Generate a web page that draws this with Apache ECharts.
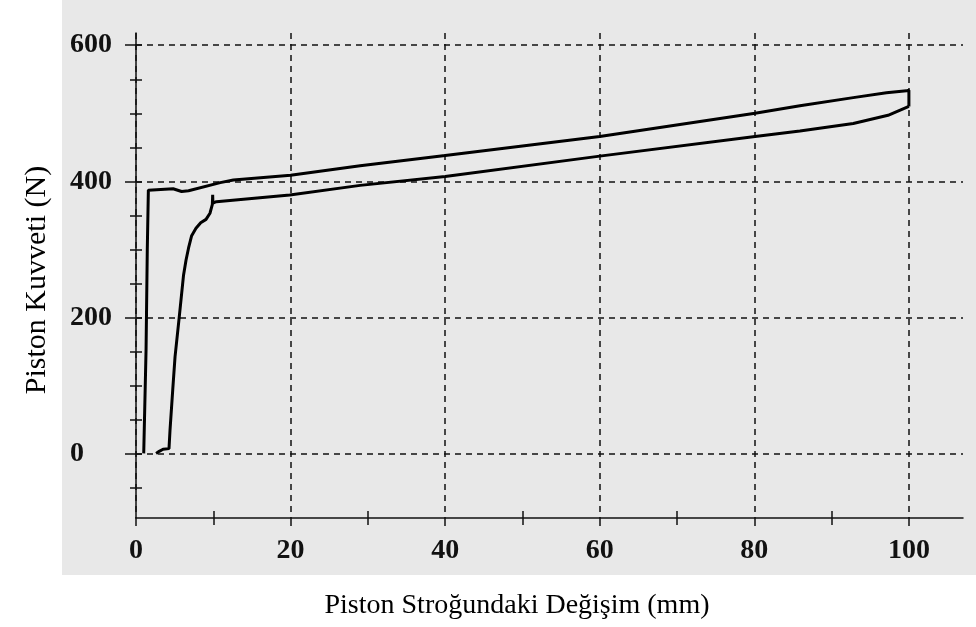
<!DOCTYPE html>
<html><head><meta charset="utf-8">
<script src="https://cdn.jsdelivr.net/npm/echarts@6/dist/echarts.min.js"></script>
<style>html,body{margin:0;padding:0;background:#fff}#c{width:976px;height:627px}</style>
</head><body><div id="c"></div>
<script>
// Loading branch (outer curve)
const loadX = [1.0, 1.3, 1.46, 1.6, 4.8, 5.9, 6.8, 10.9, 12.6, 20, 29, 40, 60, 80.1, 85.9, 92.8, 97.1, 99.7, 100, 100];
const loadY = [0, 152, 299, 387, 389, 385, 386, 398, 402, 409, 423, 438, 466, 500, 511, 523, 530, 533, 534, 510];
// Unloading branch (inner curve)
const unloadX = [100, 97.3, 92.8, 85.9, 80.1, 60, 40, 29, 19.9, 10.4, 9.95, 9.92, 9.88, 9.57, 9.06, 8.37, 7.76, 7.2, 6.8, 6.47, 6.15, 5.6, 5.05, 4.75, 4.4, 4.27, 3.5, 3.0, 2.6];
const unloadY = [510, 497, 485, 474, 466, 437, 407, 394, 380, 370, 368, 380, 366, 353, 344, 339, 331, 320, 302, 284, 262, 201, 142, 93, 34, 7, 6, 3, 0];

const xMajorTicks = [0, 20, 40, 60, 80, 100];
const xMinorTicks = [10, 30, 50, 70, 90];
const yMajorTicks = [0, 200, 400, 600];
const yAllTicks = [-50, 0, 50, 100, 150, 200, 250, 300, 350, 400, 450, 500, 550, 600];
const xTitle = 'Piston Stroğundaki Değişim (mm)';
const yTitle = 'Piston Kuvveti (N)';

const ink = '#111';
const tickFont = {fontFamily: 'Liberation Serif', fontWeight: 'bold', fontSize: 28, color: ink};
const lineSt = {color: ink, width: 1.5};
const dashSt = {color: ink, width: 1.5, type: [6, 5]};

const chart = echarts.init(document.getElementById('c'), null, {renderer: 'canvas'});
chart.setOption({
  animation: false,
  backgroundColor: '#ffffff',
  graphic: [
    {type: 'rect', z: -10, shape: {x: 62, y: 0, width: 914, height: 575}, style: {fill: '#e8e8e8'}},
    {type: 'text', x: 517, y: 606, style: {text: xTitle, fontFamily: 'Liberation Serif', fontSize: 28, fill: '#000', align: 'center', verticalAlign: 'middle'}},
    {type: 'text', x: 37, y: 280, rotation: Math.PI / 2, style: {text: yTitle, fontFamily: 'Liberation Serif', fontSize: 30, fill: '#000', align: 'center', verticalAlign: 'middle'}}
  ],
  grid: {left: 136, right: 13, top: 33, bottom: 109, containLabel: false},
  xAxis: [
    {type: 'value', min: 0, max: 107, position: 'bottom',
     axisLine: {show: true, onZero: false, lineStyle: lineSt},
     axisTick: {show: true, customValues: xMajorTicks, length: 8, lineStyle: lineSt},
     axisLabel: Object.assign({customValues: xMajorTicks, margin: 19}, tickFont),
     splitLine: {show: true, lineStyle: dashSt}},
    {type: 'value', min: 0, max: 107, position: 'bottom', offset: -7,
     axisLine: {show: false, onZero: false},
     axisTick: {show: true, customValues: xMinorTicks, length: 14, lineStyle: lineSt},
     axisLabel: {show: false}, splitLine: {show: false}}
  ],
  yAxis: [
    {type: 'value', min: -95, max: 618, position: 'left',
     axisLine: {show: true, onZero: false, lineStyle: lineSt},
     axisTick: {show: true, customValues: yMajorTicks, length: 11, lineStyle: lineSt},
     axisLabel: Object.assign({customValues: yMajorTicks, margin: 66, align: 'left'}, tickFont),
     splitLine: {show: true, lineStyle: dashSt}},
    {type: 'value', min: -95, max: 618, position: 'left', offset: -6,
     axisLine: {show: false, onZero: false},
     axisTick: {show: true, customValues: yAllTicks, length: 12, lineStyle: lineSt},
     axisLabel: {show: false}, splitLine: {show: false}}
  ],
  series: [
    {type: 'line', name: 'loading', xAxisIndex: 0, yAxisIndex: 0, symbol: 'none', z: 5,
     lineStyle: {color: '#000', width: 3}, data: loadX.map((x, i) => [x, loadY[i]])},
    {type: 'line', name: 'unloading', xAxisIndex: 0, yAxisIndex: 0, symbol: 'none', z: 5,
     lineStyle: {color: '#000', width: 3}, data: unloadX.map((x, i) => [x, unloadY[i]])}
  ]
});
</script></body></html>
